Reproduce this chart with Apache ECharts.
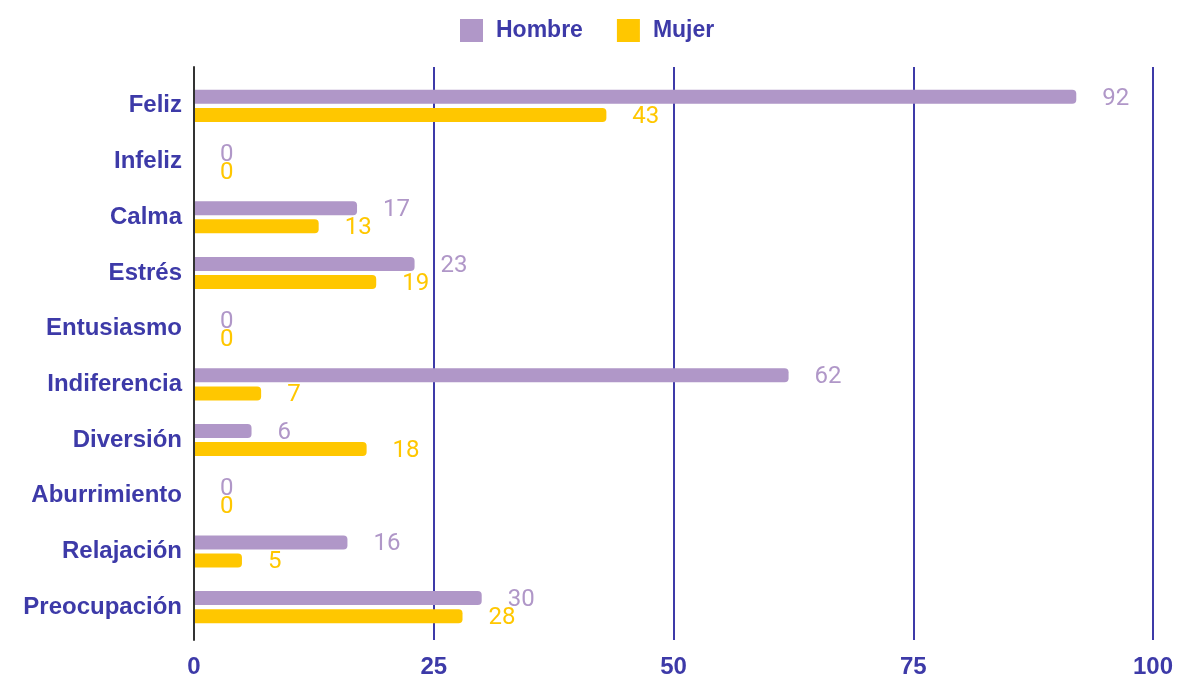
<!DOCTYPE html>
<html>
<head>
<meta charset="utf-8">
<script src="https://cdn.jsdelivr.net/npm/echarts@6/dist/echarts.min.js"></script>
<style>
  html, body { margin: 0; padding: 0; background: #fff; }
  #main { width: 1199px; height: 679px; }
</style>
</head>
<body>
<div id="main"></div>
<script>
// datos
const categorias = ['Feliz', 'Infeliz', 'Calma', 'Estrés', 'Entusiasmo', 'Indiferencia', 'Diversión', 'Aburrimiento', 'Relajación', 'Preocupación'];
const hombre = [92, 0, 17, 23, 0, 62, 6, 0, 16, 30];
const mujer = [43, 0, 13, 19, 0, 7, 18, 0, 5, 28];
const ticks = [0, 25, 50, 75, 100];

const azul = '#3d3aa8';
const lila = '#b097c8';
const amarillo = '#ffc700';
const fuente = 'Liberation Sans';

const myChart = echarts.init(document.getElementById('main'));

let option = {
  animation: false,
  legend: {
    left: 455,
    top: 14,
    itemWidth: 23,
    itemHeight: 23,
    itemGap: 34,
    icon: 'rect',
    itemStyle: { borderRadius: 3 },
    textStyle: { color: azul, fontSize: 23, fontWeight: 'bold', fontFamily: fuente, padding: [0, 0, 0, 8] },
    data: ['Hombre', 'Mujer']
  },
  grid: [
    // grid de fondo: lineas verticales y eje 0
    { left: 194, right: 46, top: 67, bottom: 34 },
    // grid de las barras
    { left: 194, right: 46, top: 78, bottom: 44 }
  ],
  xAxis: [
    {
      gridIndex: 0,
      type: 'value',
      min: ticks[0],
      max: ticks[ticks.length - 1],
      interval: 25,
      axisLine: { show: false },
      axisTick: { show: false },
      splitLine: { show: true, lineStyle: { color: azul, width: 2 } },
      axisLabel: {
        color: azul, fontSize: 24, fontWeight: 'bold', fontFamily: fuente, margin: 15
      }
    },
    {
      gridIndex: 1,
      type: 'value',
      min: 0,
      max: 100,
      show: false
    }
  ],
  yAxis: [
    {
      gridIndex: 0,
      type: 'value',
      z: 5,
      axisLine: { show: true, lineStyle: { color: '#333', width: 2 } },
      axisTick: { show: false },
      axisLabel: { show: false },
      splitLine: { show: false }
    },
    {
      gridIndex: 1,
      type: 'category',
      inverse: true,
      data: categorias,
      axisLine: { show: false },
      axisTick: { show: false },
      axisLabel: {
        color: azul, fontSize: 24, fontWeight: 'bold', fontFamily: fuente, margin: 12
      }
    }
  ],
  series: [
    {
      name: 'Hombre',
      type: 'bar',
      xAxisIndex: 1,
      yAxisIndex: 1,
      data: hombre,
      barWidth: 14,
      barGap: '29%',
      itemStyle: { color: lila, borderRadius: [0, 4, 4, 0] },
      label: {
        show: true, position: 'right', distance: 26, offset: [0, 2],
        color: lila, fontSize: 24, fontFamily: 'Roboto'
      }
    },
    {
      name: 'Mujer',
      type: 'bar',
      xAxisIndex: 1,
      yAxisIndex: 1,
      data: mujer,
      barWidth: 14,
      itemStyle: { color: amarillo, borderRadius: [0, 4, 4, 0] },
      label: {
        show: true, position: 'right', distance: 26, offset: [0, 2],
        color: amarillo, fontSize: 24, fontFamily: 'Roboto'
      }
    }
  ]
};
myChart.setOption(option);
</script>
</body>
</html>
